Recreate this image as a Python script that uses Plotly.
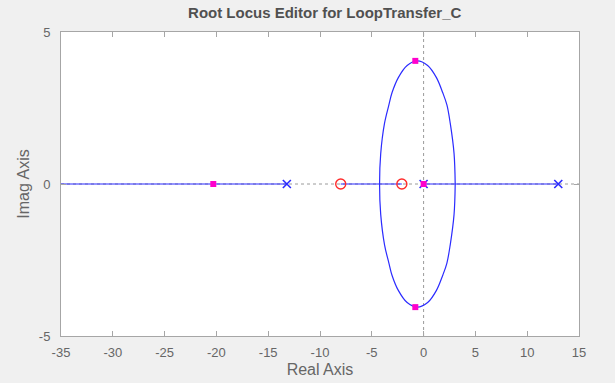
import plotly.graph_objects as go

# Open-loop poles and zeros
pole_re = [-13.2, 0.0, 13.0]
pole_im = [0.0, 0.0, 0.0]
zero_re = [-8.0, -2.1]
zero_im = [0.0, 0.0]

# Closed-loop poles (magenta squares)
cl_re = [-20.3, 0.0, -0.8, -0.8]
cl_im = [0.0, 0.0, 4.05, -4.05]

# Real-axis locus segments
seg1_re = [-35.0, -13.2]
seg2_re = [-8.0, -2.1]
seg3_re = [0.0, 13.0]

# Complex branch (upper half); lower half is the conjugate
ell_re = [-4.25, -4.14, -3.77, -3.35, -3.05, -2.44, -1.59, -0.6, 0.39, 1.24, 1.85, 2.25, 2.57, 2.94, 3.05]
ell_im = [0.0, 1.0, 2.0, 2.6, 3.0, 3.5, 3.9, 4.05, 3.9, 3.5, 3.0, 2.6, 2.0, 1.0, 0.0]

x_ticks = [-35, -30, -25, -20, -15, -10, -5, 0, 5, 10, 15]
y_ticks = [-5, 0, 5]

BLUE = "#2b2bff"
FONT = "Liberation Sans, Arial"
fig = go.Figure()

# dotted axes through origin
fig.add_trace(go.Scatter(x=[-35, 15], y=[0, 0], mode="lines",
                         line=dict(color="#9a9a9a", width=1, dash="dot"), hoverinfo="skip"))
fig.add_trace(go.Scatter(x=[0, 0], y=[-5, 5], mode="lines",
                         line=dict(color="#9a9a9a", width=1, dash="dot"), hoverinfo="skip"))

for seg in (seg1_re, seg2_re, seg3_re):
    fig.add_trace(go.Scatter(x=seg, y=[0] * len(seg), mode="lines",
                             line=dict(color=BLUE, width=1.2)))

full_re = ell_re + ell_re[::-1]
full_im = ell_im + [-v for v in ell_im[::-1]]
fig.add_trace(go.Scatter(x=full_re, y=full_im, mode="lines",
                         line=dict(color=BLUE, width=1.2, shape="spline", smoothing=1.0)))

fig.add_trace(go.Scatter(x=zero_re, y=zero_im, mode="markers",
                         marker=dict(symbol="circle-open", size=10, color="#ff2a2a",
                                     line=dict(width=1.4, color="#ff2a2a"))))
fig.add_trace(go.Scatter(x=pole_re, y=pole_im, mode="markers",
                         marker=dict(symbol="x-thin-open", size=8, color=BLUE,
                                     line=dict(width=1.6, color=BLUE))))
fig.add_trace(go.Scatter(x=cl_re, y=cl_im, mode="markers",
                         marker=dict(symbol="square", size=6, color="#ff00cc")))

axis_common = dict(showgrid=False, zeroline=False, showline=True, mirror="ticks",
                   linecolor="#a6a6a6", linewidth=1, ticks="inside", ticklen=5,
                   automargin=False,
                   tickcolor="#a6a6a6", tickfont=dict(family=FONT, size=13, color="#666666"))

fig.update_layout(
    width=615, height=383,
    margin=dict(l=61, r=36, t=32, b=47),
    paper_bgcolor="#f0f0f0", plot_bgcolor="white",
    showlegend=False,
    title=dict(text="<b>Root Locus Editor for LoopTransfer_C</b>", x=0.528, xanchor="center",
               y=1 - 13 / 383, yanchor="middle",
               font=dict(family=FONT, size=15, color="#505050")),
    xaxis=dict(range=[-35, 15], tickvals=x_ticks, ticktext=[str(v) for v in x_ticks],
               ticklabelstandoff=4,
               title=dict(text="Real Axis", standoff=5,
                          font=dict(family=FONT, size=16, color="#666666")),
               **axis_common),
    yaxis=dict(range=[-5, 5], tickvals=y_ticks, ticktext=[str(v) for v in y_ticks],
               ticklabelstandoff=7,
               title=dict(text="Imag Axis", standoff=5,
                          font=dict(family=FONT, size=16, color="#666666")),
               **axis_common),
)

fig.write_html("out.html")
